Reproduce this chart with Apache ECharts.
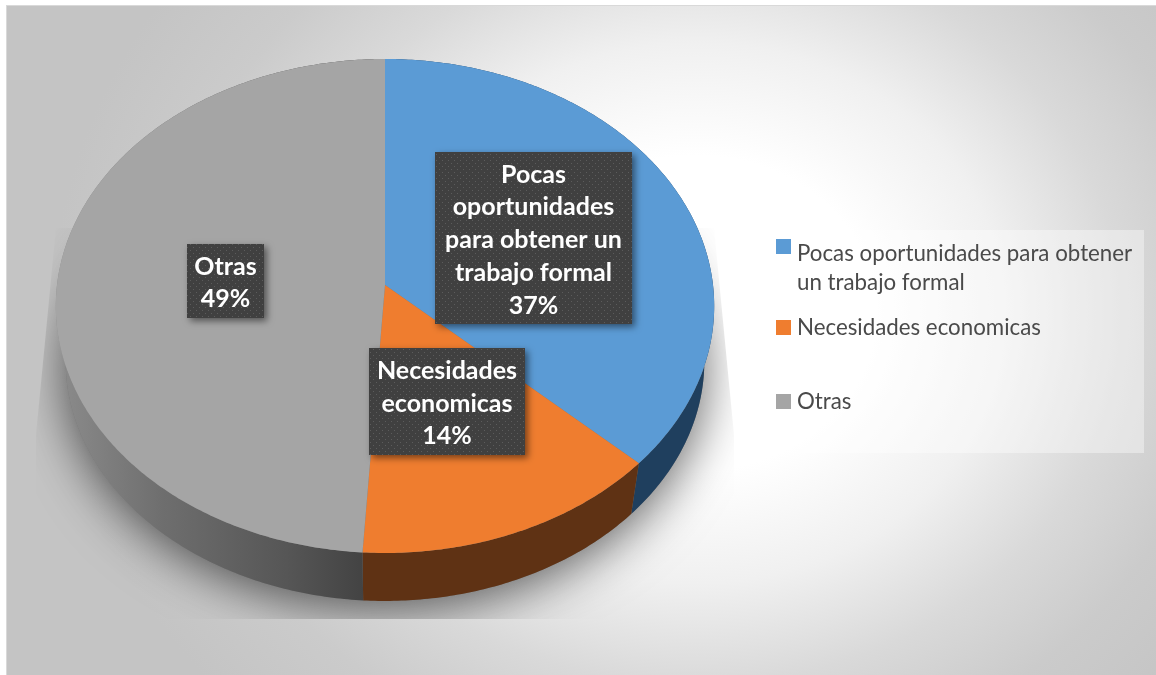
<!DOCTYPE html>
<html><head><meta charset="utf-8">
<script src="https://cdn.jsdelivr.net/npm/echarts@6/dist/echarts.min.js"></script>
<style>
html,body{margin:0;padding:0;background:#fff;width:1156px;height:675px;overflow:hidden}
#bg{position:absolute;left:6px;top:5px;width:1150px;height:670px;background:radial-gradient(ellipse 56% 84% at 60% 46%,#fff 28%,#f0f0f0 48%,#d9d9d9 66%,#cbcbcb 82%,#c4c4c4 100%);box-shadow:inset 1px 1px 0 #d9d9d9}
#c{position:absolute;left:0;top:0;width:1156px;height:675px}
</style></head><body><div id="bg"></div><div id="c"></div>
<script>
const categories = ['Pocas oportunidades para obtener un trabajo formal', 'Necesidades economicas', 'Otras'];
const values = [37, 14, 49];
const labelLines = [['Pocas','oportunidades','para obtener un','trabajo formal'], ['Necesidades','economicas'], ['Otras']];
const topColors = ['#5b9bd5', '#ef7d2f', '#a5a5a5'];
const wallColors = ['#1f3f5e', '#5f3214', null];

// perspective disc geometry
const CX = 385, APEX = 285, A = 328, B = 245.2, K = 0.085;
const LOW_S = 0.97, LOW_APEX = 341;
function pt(t, s, apex) {
  const d = 1 + K * Math.cos(t);
  return [CX + s * A * Math.sin(t) / d, apex - s * B * Math.cos(t) / d];
}
function arc(a, b, s, apex) {
  const n = Math.max(2, Math.ceil(Math.abs(b - a) * 90)), out = [];
  for (let i = 0; i <= n; i++) out.push(pt(a + (b - a) * i / n, s, apex));
  return out;
}
const total = values.reduce((p, v) => p + v, 0);
function startOf(i) { return values.slice(0, i).reduce((p, v) => p + v, 0) / total * 2 * Math.PI; }

const grayWall = new echarts.graphic.LinearGradient(56, 0, 363, 0, [
  {offset: 0, color: '#8c8c8c'}, {offset: 0.35, color: '#6e6e6e'}, {offset: 0.75, color: '#565656'}, {offset: 1, color: '#434343'}], true);

function sliceSeries(i) {
  return {
    type: 'custom', name: categories[i], coordinateSystem: 'none', z: 3,
    data: [values[i]],
    color: topColors[i],
    renderItem: function (params, api) {
      const a = startOf(i), b = a + api.value(0) / total * 2 * Math.PI;
      const wall = arc(a, b, 1, APEX).concat(arc(b, a, LOW_S, LOW_APEX));
      const top = [[CX, APEX]].concat(arc(a, b, 1, APEX));
      return {type: 'group', children: [
        {type: 'polygon', shape: {points: wall}, style: {fill: wallColors[i] || grayWall}},
        {type: 'polygon', z2: 5, shape: {points: top}, style: {fill: topColors[i]}}
      ]};
    }
  };
}

const dot = document.createElement('canvas');
dot.width = 6; dot.height = 6;
(function () {
  const g = dot.getContext('2d');
  g.fillStyle = '#404040'; g.fillRect(0, 0, 6, 6);
  g.fillStyle = '#5c5c5c'; g.fillRect(1, 1, 1, 1); g.fillRect(4, 4, 1, 1);
})();

const boxes = [[435,152,197,172],[369,348,156,107],[187,244,77,74]];
const shadowSeries = {
  type: 'custom', coordinateSystem: 'none', z: 1, silent: true, data: [0],
  renderItem: function () {
    return {type: 'polygon',
      shape: {points: arc(0, 2 * Math.PI, LOW_S, LOW_APEX)},
      style: {fill: '#777', shadowColor: 'rgba(0,0,0,0.62)', shadowBlur: 50, shadowOffsetY: 8},
      clipPath: {type: 'polygon', shape: {points: [[56,228],[36,435],[36,619],[734,619],[734,435],[714,228]]}}
    };
  }
};
const labelSeries = {
  type: 'custom', coordinateSystem: 'none', z: 6, silent: true,
  data: values.map((v, i) => [i, v]),
  renderItem: function (params, api) {
    const i = api.value(0), r = boxes[i];
    const lines = labelLines[i].concat([api.value(1) + '%']);
    return {type: 'group', children: [
      {type: 'rect', shape: {x: r[0], y: r[1], width: r[2], height: r[3]},
       style: {fill: {image: dot, repeat: 'repeat'}, shadowColor: 'rgba(0,0,0,0.5)', shadowBlur: 7, shadowOffsetX: 3, shadowOffsetY: 3}},
      {type: 'text', z2: 3, style: {text: lines.join('\n'), x: r[0] + r[2] / 2, y: r[1] + r[3] / 2 + 2,
        align: 'center', verticalAlign: 'middle', fill: '#fff',
        font: 'bold 25px Lato', lineHeight: 32.75}}
    ]};
  }
};

const legendBase = {orient: 'vertical', left: 776, itemWidth: 15, itemHeight: 15, selectedMode: false,
  padding: 0,
  textStyle: {fontFamily: 'Lato', fontSize: 22.3, color: '#4a4a4a', lineHeight: 29, padding: [0, 0, 0, 1]}};

const chart = echarts.init(document.getElementById('c'), null, {renderer: 'canvas', width: 1156, height: 675});
chart.setOption({
  animation: false,
  backgroundColor: 'transparent',
  graphic: [{type: 'rect', z: 0, silent: true, shape: {x: 764, y: 230, width: 380, height: 223}, style: {fill: 'rgba(255,255,255,0.38)'}}],
  legend: [
    Object.assign({}, legendBase, {top: 239, data: [categories[0]], itemHeight: 58,
      icon: 'path://M0 0H15V15H0ZM0 58H15V58Z',
      formatter: n => n.replace('obtener ', 'obtener\n')}),
    Object.assign({}, legendBase, {top: 313, data: [categories[1]], icon: 'rect'}),
    Object.assign({}, legendBase, {top: 387, data: [categories[2]], icon: 'rect'})
  ],
  series: [shadowSeries, sliceSeries(0), sliceSeries(1), sliceSeries(2), labelSeries]
});
</script></body></html>
